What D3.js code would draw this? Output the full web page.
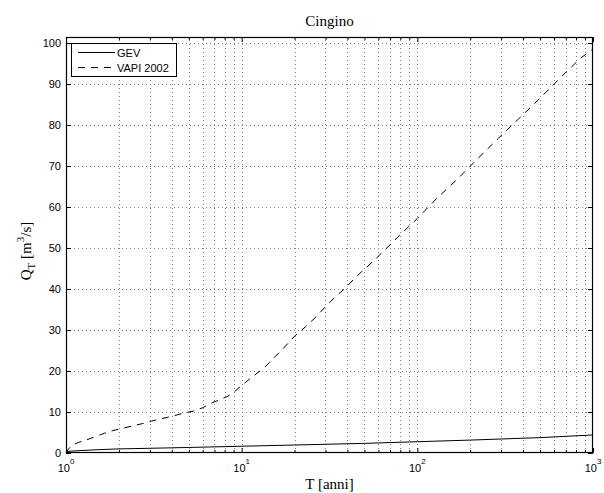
<!DOCTYPE html>
<html>
<head>
<meta charset="utf-8">
<script src="https://cdn.jsdelivr.net/npm/d3@7"></script>
<style>
  html, body { margin: 0; padding: 0; background: #fff; }
  svg { display: block; }
</style>
</head>
<body>
<svg id="chart" width="604" height="493"></svg>
<script>
// ---- data ----
const titleText = "Cingino";
const seriesNames = ["GEV", "VAPI 2002"];
const gevT = [1, 1.5, 2, 3, 5, 10, 20, 50, 100, 200, 500, 1000];
const gevQ = [0.4, 0.8, 1.0, 1.15, 1.35, 1.65, 1.95, 2.35, 2.75, 3.15, 3.75, 4.4];
const vapiT = [1, 1.03, 1.08, 1.18, 1.37, 1.65, 1.78, 2.74, 3.07, 3.91, 4.87, 5.3, 6.05, 6.6, 8.2, 8.8, 10, 11.7, 13.6, 15.5, 17.6, 20, 23.1, 26.5, 30, 34.2, 39.3, 44.6, 51.5, 59, 81.5, 100, 129, 171, 222, 290, 377, 499, 648, 849, 1000];
const vapiQ = [0.0, 0.9, 1.9, 2.6, 3.5, 4.8, 5.3, 7.2, 7.8, 8.85, 9.9, 10.2, 11.1, 12.0, 13.7, 14.4, 16.5, 18.8, 21.0, 23.5, 25.9, 28.5, 30.8, 33.2, 35.7, 38.1, 40.4, 42.9, 45.3, 47.7, 53.6, 57.2, 62.1, 67.0, 71.9, 76.8, 81.5, 86.5, 91.4, 96.3, 98.5];
const xMajorTicks = [1, 10, 100, 1000];
const xExponents = ["0", "1", "2", "3"];
const yTicks = [0, 10, 20, 30, 40, 50, 60, 70, 80, 90, 100];

// ---- layout ----
const L = 66, R = 593, Tp = 37, B = 453;
const svg = d3.select("#chart");
const x = d3.scaleLog().domain([1, 1000]).range([L, R]);
const yMaxVal = 100 * (B - Tp) / (B - 43);
const y = d3.scaleLinear().domain([0, yMaxVal]).range([B, Tp]);

const xMinor = [];
for (let e = 0; e < 3; e++) for (let k = 2; k <= 9; k++) xMinor.push(k * Math.pow(10, e));
const xAll = xMajorTicks.concat(xMinor);

// ---- grid ----
const grid = svg.append("g").attr("shape-rendering", "crispEdges")
  .attr("stroke", "#000").attr("stroke-width", 1).attr("stroke-dasharray", "1,3").attr("opacity", 0.5);
grid.selectAll(".gx").data(xAll.filter(d => d > 1 && d < 1000)).enter().append("line")
  .attr("x1", d => Math.round(x(d)) + 0.5).attr("x2", d => Math.round(x(d)) + 0.5)
  .attr("y1", B).attr("y2", Tp);
grid.selectAll(".gy").data(yTicks.filter(d => d > 0)).enter().append("line")
  .attr("x1", L).attr("x2", R)
  .attr("y1", d => Math.round(y(d)) + 0.5).attr("y2", d => Math.round(y(d)) + 0.5);

// ---- lines ----
const line = d3.line().x(d => x(d[0])).y(d => y(d[1]));
svg.append("path").datum(gevT.map((t, i) => [t, gevQ[i]]))
  .attr("d", line).attr("fill", "none").attr("stroke", "#000").attr("stroke-width", 1);
svg.append("path").datum(vapiT.map((t, i) => [t, vapiQ[i]]))
  .attr("d", line).attr("fill", "none").attr("stroke", "#000").attr("stroke-width", 1)
  .attr("stroke-dasharray", "7,6");

// ---- axes ----
const tickFont = "'Liberation Sans', Arial, Helvetica, sans-serif";
const yAxis = svg.append("g").attr("transform", `translate(${L},0)`)
  .call(d3.axisLeft(y).tickValues(yTicks).tickSizeInner(-5).tickSizeOuter(0).tickPadding(5));
yAxis.selectAll("text").attr("font-family", tickFont).attr("font-size", 11).attr("fill", "#000");
svg.append("g").attr("transform", `translate(${R},0)`)
  .call(d3.axisRight(y).tickValues(yTicks).tickSizeInner(-5).tickSizeOuter(0).tickFormat(""));

svg.append("g").attr("transform", `translate(0,${B})`)
  .call(d3.axisBottom(x).tickValues(xMajorTicks).tickSizeInner(-5).tickSizeOuter(0).tickFormat(""));
svg.append("g").attr("transform", `translate(0,${B})`)
  .call(d3.axisBottom(x).tickValues(xMinor).tickSizeInner(-3).tickSizeOuter(0).tickFormat(""));
svg.append("g").attr("transform", `translate(0,${Tp})`)
  .call(d3.axisTop(x).tickValues(xMajorTicks).tickSizeInner(-5).tickSizeOuter(0).tickFormat(""));
svg.append("g").attr("transform", `translate(0,${Tp})`)
  .call(d3.axisTop(x).tickValues(xMinor).tickSizeInner(-3).tickSizeOuter(0).tickFormat(""));
svg.selectAll(".domain").remove();
svg.selectAll(".tick line").attr("stroke", "#000");

// x tick labels with superscripts
const xl = svg.append("g").attr("font-family", tickFont).attr("fill", "#000");
xMajorTicks.forEach((t, i) => {
  const tx = xl.append("text").attr("x", x(t)).attr("y", 471.5).attr("text-anchor", "middle");
  tx.append("tspan").attr("font-size", 11).text("10");
  tx.append("tspan").attr("font-size", 8).attr("dy", -8).text(xExponents[i]);
});

// box
svg.append("rect").attr("x", L + 0.5).attr("y", Tp + 0.5).attr("width", R - L - 1).attr("height", B - Tp - 1)
  .attr("fill", "none").attr("stroke", "#000").attr("stroke-width", 1.2);

// ---- titles ----
const serif = "'Liberation Serif', 'Times New Roman', Times, serif";
svg.append("text").attr("x", (L + R) / 2).attr("y", 26).attr("text-anchor", "middle")
  .attr("font-family", serif).attr("font-size", 15).text(titleText);
svg.append("text").attr("x", (L + R) / 2).attr("y", 489).attr("text-anchor", "middle")
  .attr("font-family", serif).attr("font-size", 15).text("T [anni]");
const yl = svg.append("text").attr("transform", `translate(31,251) rotate(-90)`).attr("text-anchor", "middle")
  .attr("font-family", serif).attr("font-size", 15);
yl.append("tspan").text("Q");
yl.append("tspan").attr("font-size", 11).attr("dy", 4).text("T");
yl.append("tspan").attr("dy", -4).text(" [m");
yl.append("tspan").attr("font-size", 11).attr("dy", -7).text("3");
yl.append("tspan").attr("dy", 7).text("/s]");

// ---- legend ----
const lg = svg.append("g");
lg.append("rect").attr("x", 71.5).attr("y", 43.5).attr("width", 105).attr("height", 33)
  .attr("fill", "#fff").attr("stroke", "#000").attr("stroke-width", 1);
const legY = [52.5, 67.5];
seriesNames.forEach((name, i) => {
  lg.append("line").attr("x1", 78).attr("x2", 115).attr("y1", legY[i]).attr("y2", legY[i])
    .attr("stroke", "#000").attr("stroke-width", 1)
    .attr("stroke-dasharray", i === 1 ? "7,6" : null);
  lg.append("text").attr("x", 117).attr("y", legY[i] + 4).attr("font-family", tickFont)
    .attr("font-size", 11).text(name);
});
</script>
</body>
</html>
